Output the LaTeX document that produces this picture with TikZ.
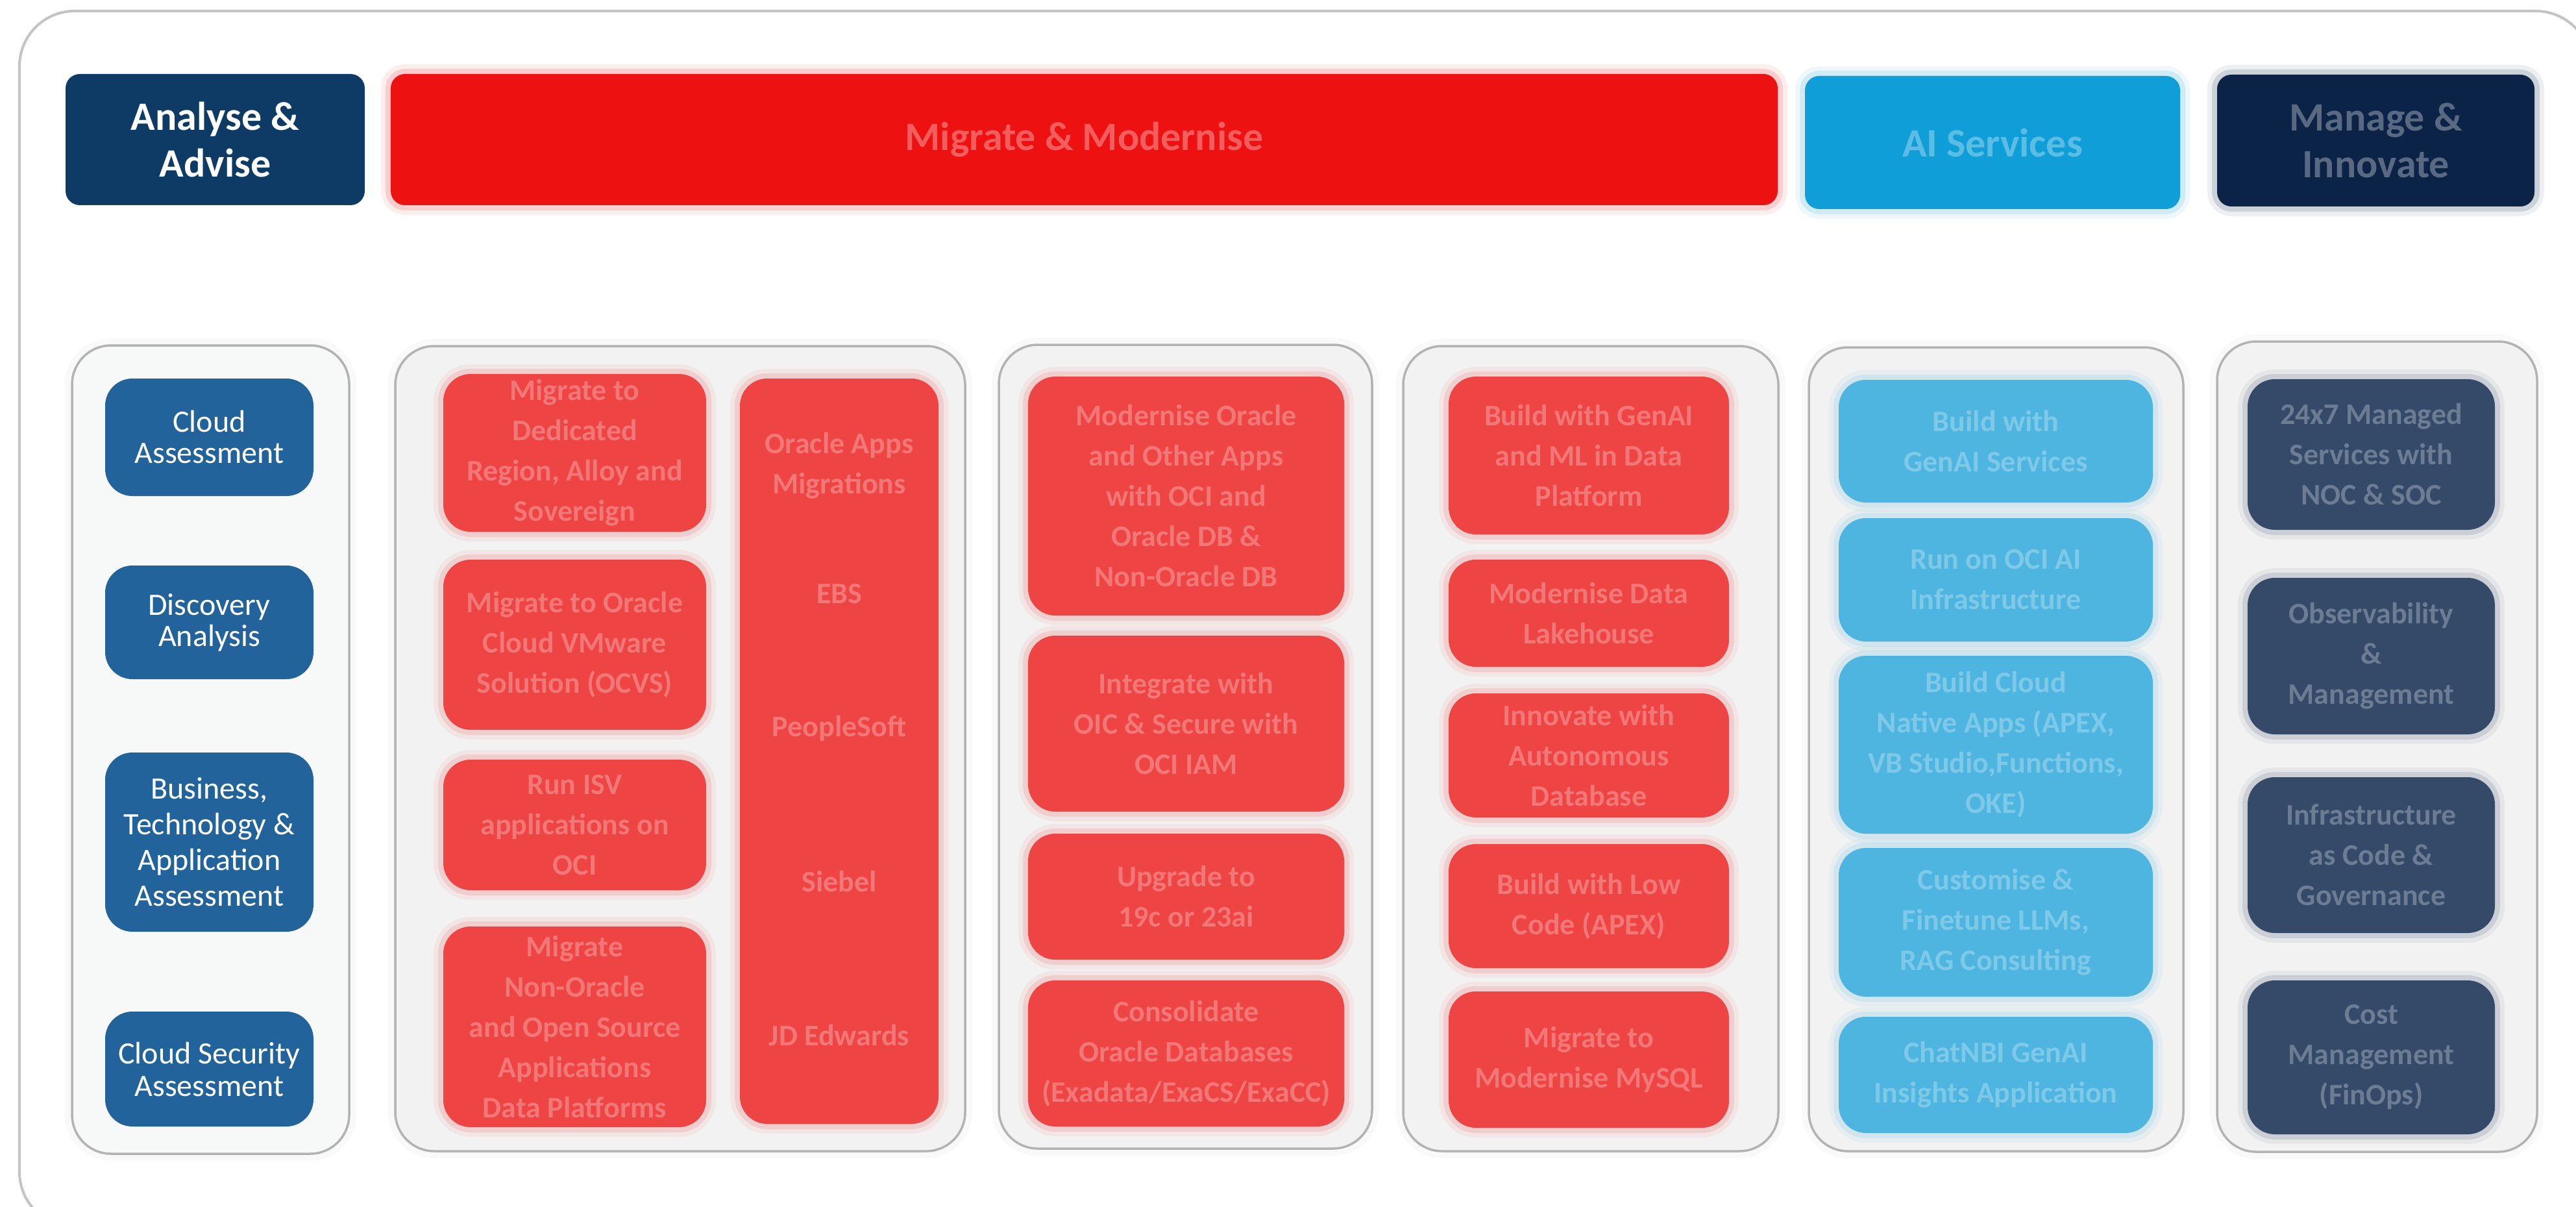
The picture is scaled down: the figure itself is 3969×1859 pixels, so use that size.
\documentclass[tikz,border=0pt]{standalone}
\usepackage{fontspec}
\setmainfont{Carlito}
\definecolor{hdrAA}{HTML}{0D3B66}
\definecolor{hdrMM}{HTML}{EE1111}
\definecolor{hdrAI}{HTML}{109ED8}
\definecolor{hdrMI}{HTML}{0B2347}
\definecolor{itemAA}{HTML}{21639A}
\definecolor{itemRed}{HTML}{EE4444}
\definecolor{itemBlue}{HTML}{4DB5E0}
\definecolor{itemDark}{HTML}{344A68}
\definecolor{panelFill}{HTML}{F2F2F2}
\definecolor{panelFillL}{HTML}{F7F8F8}
\definecolor{panelLine}{HTML}{B3B3B3}
\definecolor{frameLine}{HTML}{C4C4C4}
\newcommand\rbox[7]{%
  \node[#6, minimum width={(#4)-(#2)}, minimum height={(#5)-(#3)}] (#1)
    at ({((#2)+(#4))/2},{((#3)+(#5))/2}) {#7};}
\tikzset{
  boxbase/.style={inner sep=0pt, align=center, text=white},
  hdrbox/.style={boxbase, rounded corners=22pt},
  hdrtext/.style={font=\fontsize{62}{72}\selectfont\bfseries},
  blurtext/.style={text opacity=0.28, font=\fontsize{46}{62}\selectfont\bfseries},
  panel/.style={boxbase, rounded corners=60pt, fill=panelFill, draw=panelLine, line width=3.5pt,
    preaction={draw=black, line width=22pt, draw opacity=0.025}},
  aaitem/.style={boxbase, rounded corners=42pt, fill=itemAA, font=\fontsize{48}{48}\selectfont},
  glow/.style={preaction={draw=#1, line width=30pt, draw opacity=0.07},
               preaction={draw=#1, line width=16pt, draw opacity=0.14}},
  reditem/.style={boxbase, rounded corners=42pt, fill=itemRed, glow=itemRed, blurtext},
  blueitem/.style={boxbase, rounded corners=42pt, fill=itemBlue, glow=itemBlue, blurtext},
  darkitem/.style={boxbase, rounded corners=42pt, fill=itemDark, glow=itemDark, blurtext},
  plaintext/.style={inner sep=0pt, align=center, text=white, blurtext}
}
\begin{document}
\begin{tikzpicture}[x=1pt, y=-1pt]
\useasboundingbox (0,0) rectangle (3969,1859);
\clip (0,0) rectangle (3969,1859);
\fill[white] (0,0) rectangle (3969,1859);
% outer frame
\draw[frameLine, line width=4pt, rounded corners=85pt] (30,17) rectangle (3992,1890);

% headers
\rbox{hAA}{101}{114}{562}{316}{hdrbox, fill=hdrAA, hdrtext}{Analyse \&\\Advise}
\rbox{hMM}{602}{114}{2739}{316}{hdrbox, fill=hdrMM, glow=hdrMM, hdrtext, text opacity=0.32}{Migrate \& Modernise}
\rbox{hAI}{2781}{117}{3359}{322}{hdrbox, fill=hdrAI, glow=hdrAI, hdrtext, text opacity=0.32}{AI Services}
\rbox{hMI}{3416}{115}{3905}{318}{hdrbox, fill=hdrMI, glow=hdrMI, hdrtext, text opacity=0.32}{Manage \&\\Innovate}

% panels
\rbox{pAA}{111}{532}{538}{1777}{panel, fill=panelFillL}{}
\rbox{pMA}{609}{533}{1487}{1773}{panel}{}
\rbox{pMB}{1539}{531}{2114}{1769}{panel}{}
\rbox{pMC}{2162}{533}{2740}{1773}{panel}{}
\rbox{pAI}{2787}{535}{3364}{1773}{panel}{}
\rbox{pMI}{3416}{526}{3909}{1774}{panel}{}

% Analyse & Advise items
\rbox{a1}{162}{583}{483}{764}{aaitem}{Cloud\\Assessment}
\rbox{a2}{162}{871}{483}{1046}{aaitem}{Discovery\\Analysis}
\rbox{a3}{162}{1159}{483}{1435}{aaitem, font=\fontsize{48}{55}\selectfont}{Business,\\Technology \&\\Application\\Assessment}
\rbox{a4}{162}{1558}{483}{1735}{aaitem, font=\fontsize{48}{50}\selectfont}{Cloud Security\\Assessment}

% Migrate & Modernise, panel A
\rbox{m1}{683}{576}{1088}{819}{reditem}{Migrate to\\Dedicated\\Region, Alloy and\\Sovereign}
\rbox{m2}{683}{862}{1088}{1124}{reditem}{Migrate to Oracle\\Cloud VMware\\Solution (OCVS)}
\rbox{m3}{683}{1170}{1088}{1371}{reditem}{Run ISV\\applications on\\OCI}
\rbox{m4}{683}{1427}{1088}{1736}{reditem}{Migrate\\Non-Oracle\\and Open Source\\Applications\\Data Platforms}
\rbox{m5}{1140}{583}{1446}{1731}{reditem}{}
\node[plaintext] (m5a) at (1293,717) {Oracle Apps\\Migrations};
\node[plaintext] (m5b) at (1293,915) {EBS};
\node[plaintext] (m5c) at (1293,1122) {PeopleSoft};
\node[plaintext] (m5d) at (1293,1358) {Siebel};
\node[plaintext] (m5e) at (1293,1595) {JD Edwards};

% panel B
\rbox{m6}{1584}{580}{2071}{948}{reditem}{Modernise Oracle\\and Other Apps\\with OCI and\\Oracle DB \&\\Non-Oracle DB}
\rbox{m7}{1584}{979}{2071}{1250}{reditem}{Integrate with\\OIC \& Secure with\\OCI IAM}
\rbox{m8}{1584}{1284}{2071}{1478}{reditem}{Upgrade to\\19c or 23ai}
\rbox{m9}{1584}{1510}{2071}{1735}{reditem}{Consolidate\\Oracle Databases\\(Exadata/ExaCS/ExaCC)}

% panel C
\rbox{m10}{2232}{580}{2664}{823}{reditem}{Build with GenAI\\and ML in Data\\Platform}
\rbox{m11}{2232}{862}{2664}{1027}{reditem}{Modernise Data\\Lakehouse}
\rbox{m12}{2232}{1068}{2664}{1259}{reditem}{Innovate with\\Autonomous\\Database}
\rbox{m13}{2232}{1300}{2664}{1491}{reditem}{Build with Low\\Code (APEX)}
\rbox{m14}{2232}{1527}{2664}{1737}{reditem}{Migrate to\\Modernise MySQL}

% AI services
\rbox{s1}{2833}{585}{3317}{774}{blueitem}{Build with\\GenAI Services}
\rbox{s2}{2833}{798}{3317}{988}{blueitem}{Run on OCI AI\\Infrastructure}
\rbox{s3}{2833}{1010}{3317}{1284}{blueitem}{Build Cloud\\Native Apps (APEX,\\VB Studio,Functions,\\OKE)}
\rbox{s4}{2833}{1306}{3317}{1535}{blueitem}{Customise \&\\Finetune LLMs,\\RAG Consulting}
\rbox{s5}{2833}{1566}{3317}{1745}{blueitem}{ChatNBI GenAI\\Insights Application}

% Manage & Innovate
\rbox{n1}{3463}{584}{3844}{816}{darkitem}{24x7 Managed\\Services with\\NOC \& SOC}
\rbox{n2}{3463}{890}{3844}{1131}{darkitem}{Observability\\\&\\Management}
\rbox{n3}{3463}{1197}{3844}{1437}{darkitem}{Infrastructure\\as Code \&\\Governance}
\rbox{n4}{3463}{1510}{3844}{1747}{darkitem}{Cost\\Management\\(FinOps)}
\end{tikzpicture}
\end{document}
